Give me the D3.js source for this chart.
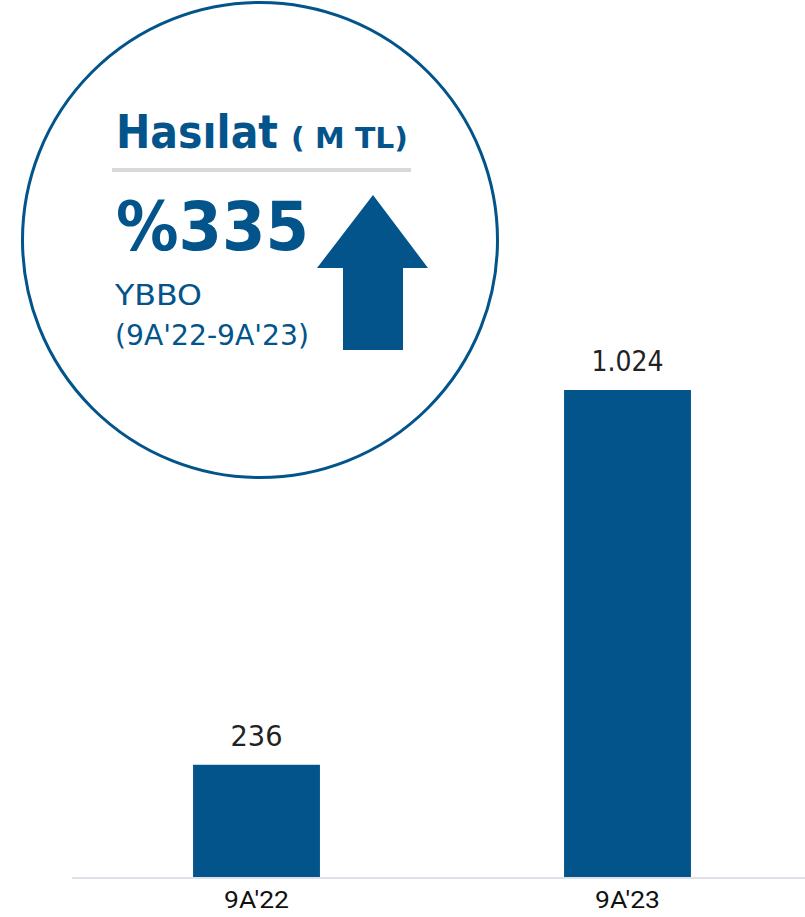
<!DOCTYPE html>
<html>
<head>
<meta charset="utf-8">
<script src="https://cdn.jsdelivr.net/npm/d3@7"></script>
<style>
  body { margin: 0; background: #fff; }
  svg { display: block; }
</style>
</head>
<body>
<svg width="805" height="917"></svg>
<script>
var periods = ["9A'22", "9A'23"];
var revenue = [236, 1024];
var labels = ["236", "1.024"];
var growthText = "%335";

var blue = "#02548a";

var svg = d3.select("svg"),
    baseY = 877;

var x = d3.scaleBand()
    .domain(periods)
    .range([71, 813])
    .paddingInner(0.658)
    .paddingOuter(0.329);

var y = d3.scaleLinear()
    .domain([0, 1024])
    .range([baseY, 390]);

// bars
svg.selectAll(".bar")
    .data(revenue)
    .enter().append("rect")
    .attr("class", "bar")
    .attr("x", function (d, i) { return x(periods[i]); })
    .attr("y", function (d) { return y(d); })
    .attr("width", x.bandwidth())
    .attr("height", function (d) { return baseY - y(d); })
    .attr("fill", blue);

// value labels
svg.selectAll(".val")
    .data(revenue)
    .enter().append("text")
    .attr("class", "val")
    .attr("x", function (d, i) { return x(periods[i]) + x.bandwidth() / 2; })
    .attr("y", function (d) { return y(d) - 19; })
    .attr("text-anchor", "middle")
    .attr("font-family", "'DejaVu Sans', sans-serif")
    .attr("font-size", 28)
    .attr("fill", "#222")
    .attr("textLength", function (d, i) { return i === 0 ? 52 : 72; })
    .attr("lengthAdjust", "spacingAndGlyphs")
    .text(function (d, i) { return labels[i]; });

// x axis
var axis = svg.append("g")
    .attr("transform", "translate(0," + (baseY + 1) + ")")
    .call(d3.axisBottom(x).tickSize(0));
axis.select(".domain").attr("d", "M72,0H805").attr("stroke", "#d3d7df").attr("stroke-width", 1.5);
axis.selectAll("text")
    .attr("font-family", "'Liberation Sans Narrow', 'Roboto', sans-serif")
    .attr("font-size", 24)
    .attr("fill", "#111")
    .attr("y", 30)
    .attr("dy", 0)
    .attr("textLength", 65)
    .attr("lengthAdjust", "spacingAndGlyphs");

// circle callout
var c = svg.append("g");
c.append("circle")
    .attr("cx", 260).attr("cy", 240).attr("r", 237.5)
    .attr("fill", "none")
    .attr("stroke", blue)
    .attr("stroke-width", 3);

var title = c.append("text")
    .attr("x", 116).attr("y", 148)
    .attr("fill", blue)
    .attr("font-family", "'DejaVu Sans', sans-serif")
    .attr("font-weight", "bold");
title.append("tspan").attr("font-size", 47).attr("textLength", 162).attr("lengthAdjust", "spacingAndGlyphs").text("Hasılat");
title.append("tspan").attr("x", 291).attr("font-size", 29).attr("textLength", 117).attr("lengthAdjust", "spacingAndGlyphs").text("( M TL)");

c.append("line")
    .attr("x1", 112).attr("x2", 411)
    .attr("y1", 170).attr("y2", 170)
    .attr("stroke", "#d9d9d9")
    .attr("stroke-width", 4);

c.append("text")
    .attr("x", 116).attr("y", 250)
    .attr("fill", blue)
    .attr("font-family", "'DejaVu Sans', sans-serif")
    .attr("font-weight", "bold")
    .attr("font-size", 68)
    .attr("textLength", 193)
    .attr("lengthAdjust", "spacingAndGlyphs")
    .text(growthText);

c.append("text")
    .attr("x", 115).attr("y", 305)
    .attr("fill", blue)
    .attr("font-family", "'DejaVu Sans', sans-serif")
    .attr("font-size", 29)
    .attr("textLength", 87)
    .attr("lengthAdjust", "spacingAndGlyphs")
    .text("YBBO");

c.append("text")
    .attr("x", 115).attr("y", 345)
    .attr("fill", blue)
    .attr("font-family", "'DejaVu Sans', sans-serif")
    .attr("font-size", 29)
    .attr("textLength", 194)
    .attr("lengthAdjust", "spacingAndGlyphs")
    .text("(9A'22-9A'23)");

// up arrow
c.append("path")
    .attr("d", "M373,195L428,268H403V350H343V268H317Z")
    .attr("fill", blue);
</script>
</body>
</html>
